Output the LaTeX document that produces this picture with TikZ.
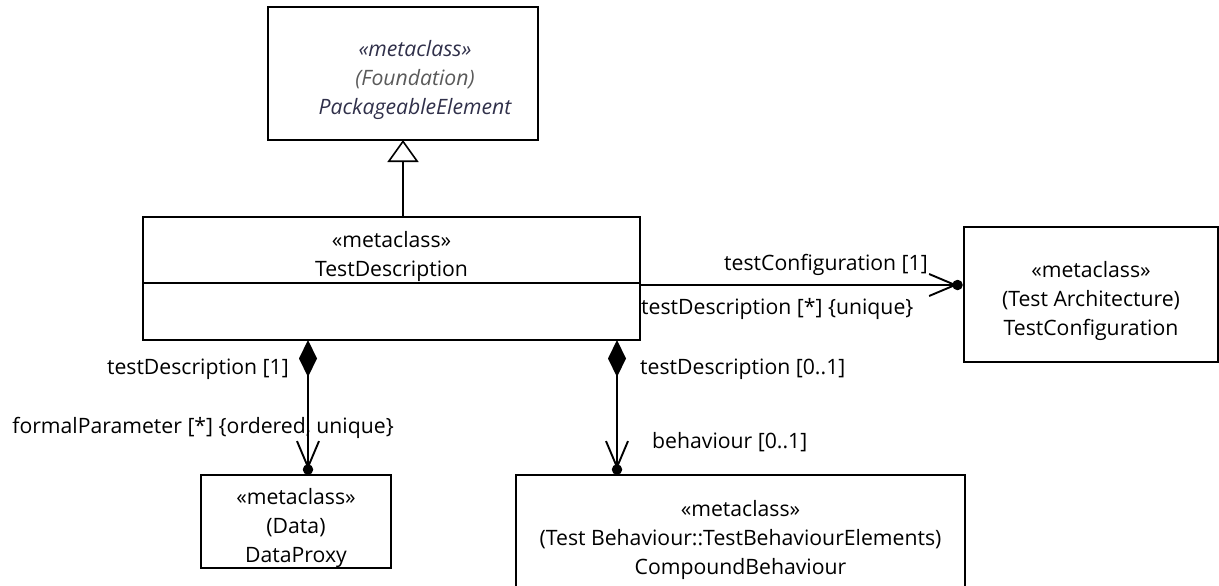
\documentclass[tikz,border=0pt]{standalone}
\usepackage{fontspec}
\setmainfont{Open Sans}
\usetikzlibrary{arrows.meta,positioning}

\definecolor{importname}{HTML}{30304A}
\definecolor{importpkg}{HTML}{5A5A5A}

\tikzset{
  classbox/.style={draw, line width=1.8pt, rectangle, inner sep=0pt, outer sep=0pt},
  classtext/.style={align=center, inner sep=0pt, yshift=-6.5pt, font=\fontsize{21.2}{29}\selectfont},
  importtext/.style={classtext, xshift=12pt, font=\fontsize{21.2}{29}\selectfont\itshape, text=importname},
  rolelabel/.style={inner sep=0pt, font=\fontsize{21.2}{29}\selectfont},
  ownerdot/.style={fill, circle, inner sep=0pt, minimum size=10.5pt},
  generalization/.style={line width=1.6pt, -{Triangle[open, length=22pt, width=31pt, line width=1.6pt]}},
  assoc/.style={line width=1.6pt, -{Straight Barb[length=26pt, width=22pt, line width=1.9pt]}},
  composite/.style={assoc, {Diamond[length=37pt, width=18pt]}-{Straight Barb[length=26pt, width=22pt, line width=1.9pt]}},
}

\begin{document}
\begin{tikzpicture}[x=1pt,y=-1pt]

    \clip (0,0) rectangle (1219,586);

    % classes
    \node[classbox, minimum width=270, minimum height=133,
        label={[importtext]center:{«metaclass»\\{\color{importpkg}(Foundation)}\\PackageableElement}}]
        (pkg) at (403,73.5) {};
    \node[classbox, minimum width=497, minimum height=66,
        label={[classtext]center:{«metaclass»\\TestDescription}}]
        (td) at (391.5,250) {};
    \node[classbox, minimum width=497, minimum height=57, below=0pt of td] (tdattr) {};
    \node[classbox, minimum width=254, minimum height=135,
        label={[classtext]center:{«metaclass»\\(Test Architecture)\\TestConfiguration}}]
        (tc) at (1091,294.5) {};
    \node[classbox, minimum width=190, minimum height=93,
        label={[classtext]center:{«metaclass»\\(Data)\\DataProxy}}]
        (dp) at (296,521.5) {};
    \node[classbox, minimum width=449, minimum height=117,
        label={[classtext]center:{«metaclass»\\(Test Behaviour::TestBehaviourElements)\\CompoundBehaviour}}]
        (cb) at (740.5,533.5) {};

    % generalization
    \draw[generalization] (td.north -| pkg.south) -- (pkg.south);

    % testConfiguration
    \coordinate (tdout) at ([yshift=-2pt]tdattr.north east);
    \coordinate (tcin) at (tdout -| tc.west);
    \node[ownerdot, left=1pt of tcin] (tcdot) {};
    \draw[assoc] (tdout) -- (tcdot.center);
    \node[rolelabel, anchor=mid east] (tcend) at (928,268) {testConfiguration [1]};
    \node[rolelabel, anchor=mid west] (tdend) at (641,312) {testDescription [*] \{unique\}};

    % formalParameter
    \coordinate (dpsrc) at (308,340);
    \coordinate (dpin) at (dpsrc |- dp.north);
    \node[ownerdot, above=0pt of dpin] (dpdot) {};
    \draw[composite] (dpsrc) -- (dpdot.center);
    \node[rolelabel, anchor=mid east] (dpowner) at (289,372) {testDescription [1]};
    \node[rolelabel, anchor=mid east] (dpend) at (394,431) {formalParameter [*] \{ordered, unique\}};

    % behaviour
    \coordinate (cbsrc) at (617,340);
    \coordinate (cbin) at (cbsrc |- cb.north);
    \node[ownerdot, above=0pt of cbin] (cbdot) {};
    \draw[composite] (cbsrc) -- (cbdot.center);
    \node[rolelabel, anchor=mid west] (cbowner) at (640,372) {testDescription [0..1]};
    \node[rolelabel, anchor=mid west] (cbend) at (652,446) {behaviour [0..1]};

\end{tikzpicture}
\end{document}
